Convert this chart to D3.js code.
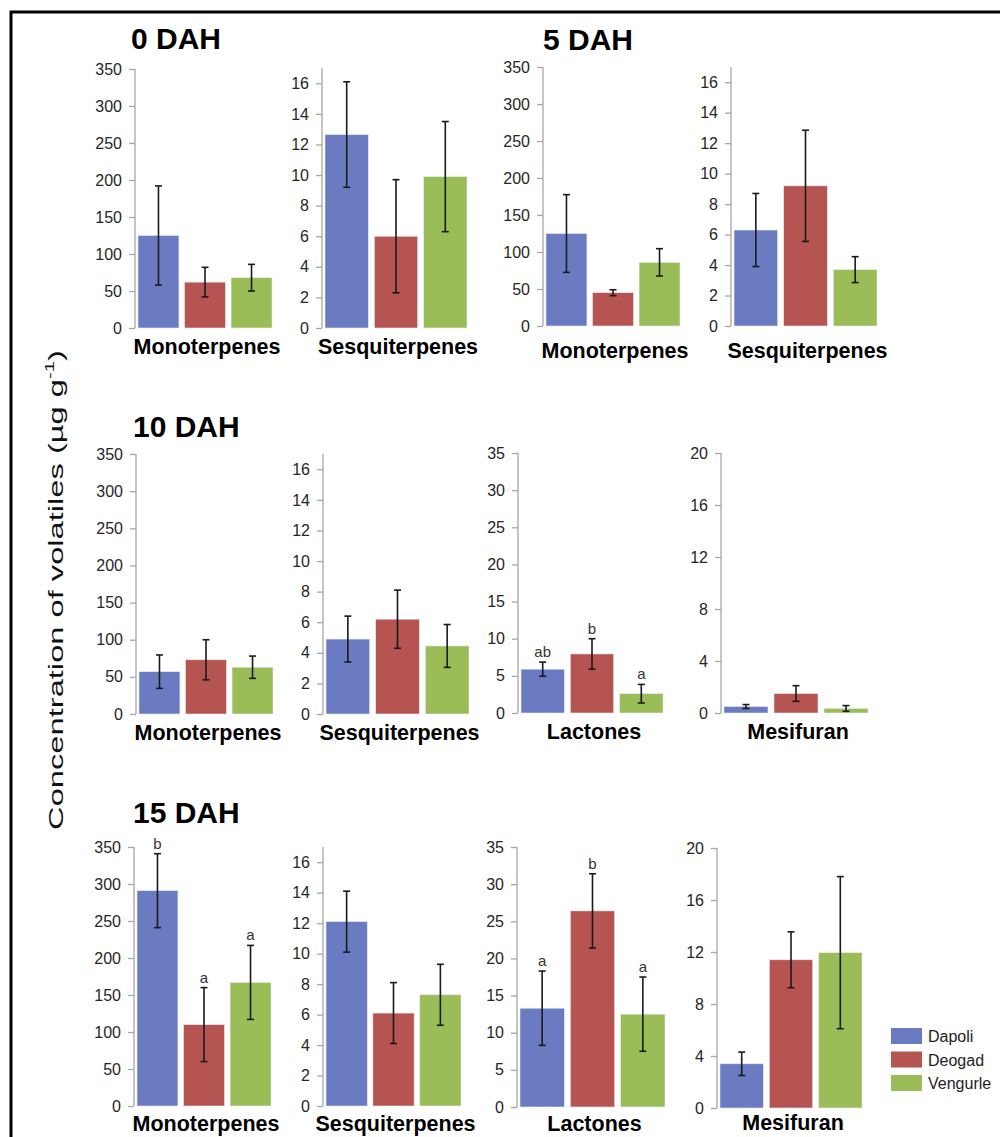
<!DOCTYPE html>
<html><head><meta charset="utf-8">
<script src="https://cdn.jsdelivr.net/npm/d3@7"></script>
<style>
html,body{margin:0;padding:0;background:#fff;}
svg{display:block;font-family:Arial,"Liberation Sans",sans-serif;}
</style></head>
<body><svg id="c" width="1000" height="1137"></svg>
<script>
// ---------- DATA ----------
const series = ["Dapoli", "Deogad", "Vengurle"];
const stages = ["0 DAH", "5 DAH", "10 DAH", "15 DAH"];
const panelStage    = ["0 DAH","0 DAH","5 DAH","5 DAH","10 DAH","10 DAH","10 DAH","10 DAH","15 DAH","15 DAH","15 DAH","15 DAH"];
const panelCompound = ["Monoterpenes","Sesquiterpenes","Monoterpenes","Sesquiterpenes","Monoterpenes","Sesquiterpenes","Lactones","Mesifuran","Monoterpenes","Sesquiterpenes","Lactones","Mesifuran"];
const dapoli      = [125, 12.65, 125, 6.3, 57, 4.9, 5.9, 0.5, 291, 12.1, 13.3, 3.4];
const dapoliErr   = [67, 3.45, 52.5, 2.4, 22.5, 1.5, 0.95, 0.15, 50, 2.0, 5.0, 0.9];
const deogad      = [62, 6.0, 45, 9.2, 73, 6.2, 7.95, 1.5, 110, 6.1, 26.4, 11.4];
const deogadErr   = [20, 3.7, 4, 3.65, 27, 1.9, 2.05, 0.6, 50, 2.0, 5.0, 2.15];
const vengurle    = [68, 9.9, 86, 3.7, 63, 4.45, 2.6, 0.35, 167, 7.3, 12.5, 11.95];
const vengurleErr = [18, 3.6, 18.5, 0.85, 15, 1.4, 1.25, 0.22, 50, 2.0, 5.0, 5.85];
const dapoliSig   = ["", "", "", "", "", "", "ab", "", "b", "", "a", ""];
const deogadSig   = ["", "", "", "", "", "", "b",  "", "a", "", "b", ""];
const vengurleSig = ["", "", "", "", "", "", "a",  "", "a", "", "a", ""];
// axis extents and tick labels per compound
const axisCompounds = ["Monoterpenes","Sesquiterpenes","Lactones","Mesifuran"];
const axisMax   = [350, 17, 35, 20];
const axisTicks = [[0,50,100,150,200,250,300,350],[0,2,4,6,8,10,12,14,16],[0,5,10,15,20,25,30,35],[0,4,8,12,16,20]];
const yTitle = "Concentration of volatiles (µg g";
const yTitleSup = "-1";

// ---------- LAYOUT ----------
const colors = ["#6a7bc2", "#b65451", "#9bbd58"];
// axis x, axis top y, axis bottom y, label offset, band span
const panelLayout = [
  {x:135, top:69,  bot:328,  lab:26, span:134},
  {x:322, top:68,  bot:328,  lab:26, span:142},
  {x:543, top:67,  bot:326,  lab:32, span:134},
  {x:731, top:67,  bot:326,  lab:32, span:143},
  {x:136, top:454, bot:714,  lab:26, span:134},
  {x:323, top:454, bot:714,  lab:26, span:143},
  {x:518, top:453, bot:713,  lab:26, span:142},
  {x:721, top:453, bot:713,  lab:26, span:144},
  {x:134, top:847, bot:1106, lab:25, span:134},
  {x:323, top:847, bot:1106, lab:25, span:135},
  {x:517, top:847, bot:1107, lab:24, span:145},
  {x:717, top:848, bot:1108, lab:22, span:142}
];
const titlePos = [{x:131,y:49},{x:543,y:50},{x:133,y:437},{x:133,y:823}];

const svg = d3.select("#c");
svg.append("rect").attr("x",11).attr("y",12).attr("width",1300).attr("height",1300)
  .attr("fill","none").attr("stroke","#000").attr("stroke-width",3);

stages.forEach((s,i)=>{
  svg.append("text").attr("x",titlePos[i].x).attr("y",titlePos[i].y)
    .attr("font-size",30).attr("font-weight","bold").attr("fill","#000").text(s);
});

const means = [dapoli, deogad, vengurle];
const errs = [dapoliErr, deogadErr, vengurleErr];
const sigs = [dapoliSig, deogadSig, vengurleSig];

panelCompound.forEach((comp,p)=>{
  const L = panelLayout[p];
  const ci = axisCompounds.indexOf(comp);
  const y = d3.scaleLinear().domain([0, axisMax[ci]]).range([L.bot, L.top]);
  const x = d3.scaleBand().domain(series).range([L.x+3, L.x+3+L.span]).paddingInner(0.12).paddingOuter(0);
  const g = svg.append("g");
  // axis
  const ax = g.append("g").attr("transform",`translate(${L.x},0)`)
    .call(d3.axisLeft(y).tickValues(axisTicks[ci]).tickSize(6).tickPadding(7).tickFormat(d3.format("d")));
  ax.select(".domain").attr("stroke","#a6a6a6").attr("stroke-width",1.3).attr("d",`M0,${L.top}V${L.bot}`);
  ax.selectAll(".tick line").attr("stroke","#a6a6a6").attr("stroke-width",1.3);
  ax.selectAll(".tick text").attr("font-size",16).attr("fill","#262626").attr("font-family","Arial,'Liberation Sans',sans-serif");
  // bars
  series.forEach((sname,si)=>{
    const v = means[si][p], e = errs[si][p];
    const bx = x(sname), bw = x.bandwidth();
    g.append("rect").attr("x",bx).attr("y",y(v)).attr("width",bw).attr("height",y(0)-y(v))
      .attr("fill",colors[si]).attr("stroke","#e8ecf4").attr("stroke-width",0.6);
    const cx = bx + bw/2;
    const lo = y(Math.max(0, v-e)), hi = y(v+e);
    g.append("line").attr("x1",cx).attr("x2",cx).attr("y1",lo).attr("y2",hi).attr("stroke","#1a1a1a").attr("stroke-width",1.6);
    [lo,hi].forEach(yy=>g.append("line").attr("x1",cx-3.5).attr("x2",cx+3.5).attr("y1",yy).attr("y2",yy).attr("stroke","#1a1a1a").attr("stroke-width",1.6));
    const sg = sigs[si][p];
    if (sg) g.append("text").attr("x",cx).attr("y",hi-5).attr("text-anchor","middle")
      .attr("font-size",15).attr("fill","#333").text(sg);
  });
  // category label
  g.append("text").attr("x", L.x+3+L.span/2+2).attr("y", L.bot+L.lab).attr("text-anchor","middle")
    .attr("font-size",21.5).attr("font-weight","bold").attr("fill","#000").text(comp);
});

// legend
const legG = svg.append("g");
series.forEach((sname,si)=>{
  const yy = 1028 + si*23.5;
  legG.append("rect").attr("x",891).attr("y",yy).attr("width",31).attr("height",16).attr("fill",colors[si]);
  legG.append("text").attr("x",928).attr("y",yy+14).attr("font-size",16).attr("fill","#222").text(sname);
});

// y title (stretched along its length like the reference)
const yt = svg.append("text").attr("text-anchor","middle").attr("font-size",21).attr("fill","#111");
yt.append("tspan").text(yTitle);
yt.append("tspan").attr("font-size",13).attr("dy",-9).text(yTitleSup);
yt.append("tspan").attr("dy",9).text(")");
const w = yt.node().getComputedTextLength();
const sx = 480 / w;
yt.attr("transform",`translate(63,590) rotate(-90) scale(${sx.toFixed(3)},1)`);
</script></body></html>
